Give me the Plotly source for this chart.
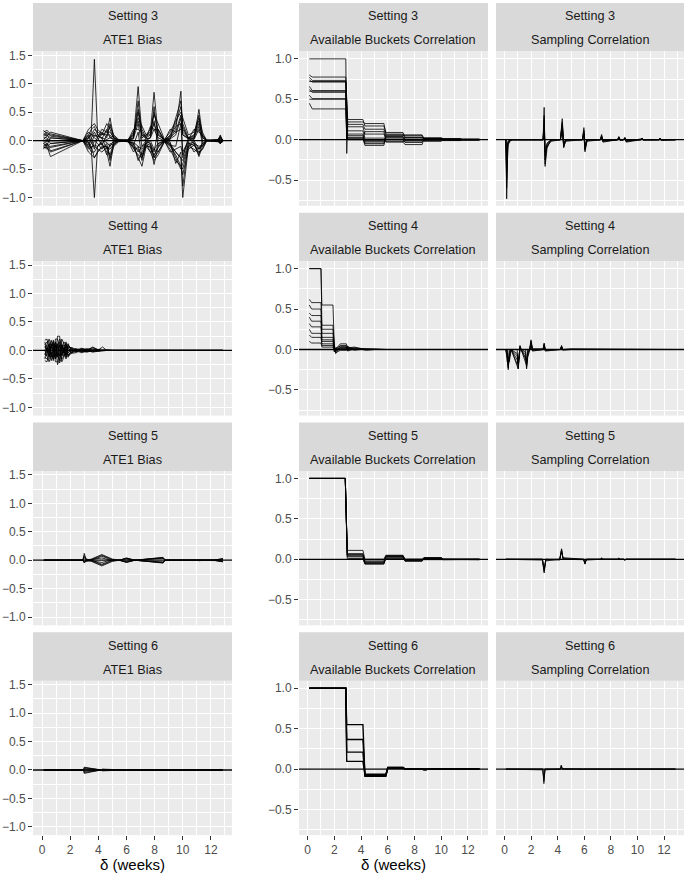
import plotly.graph_objects as go

W, H = 685, 874

# ---------------- tick labels / categories ----------------
settings = ["Setting 3", "Setting 4", "Setting 5", "Setting 6"]
metrics = ["ATE1 Bias", "Available Buckets Correlation", "Sampling Correlation"]
x_tick_vals = [0, 2, 4, 6, 8, 10, 12]
bias_tick_vals = [-1.0, -0.5, 0.0, 0.5, 1.0, 1.5]
corr_tick_vals = [-0.5, 0.0, 0.5, 1.0]
x_label = "δ (weeks)"

# ---------------- Setting 3 : ATE1 Bias ----------------
s3_bias_x = [0.1, 0.35, 0.6, 2.9, 3.3, 3.5, 3.72, 3.95, 4.25, 4.6, 4.83, 5.1, 5.45, 6.1, 6.5, 6.83, 7.1, 7.4,
             7.7, 7.96, 8.25, 8.7, 9.1, 9.5, 9.87, 10.0, 10.4, 10.8, 11.15, 11.4, 11.7, 12.5, 12.67, 12.8, 12.86]
s3_bias_y = [
    [0.15, 0.18, 0.12, 0.0, 0.05, 0.15, 1.43, 0.1, 0.05, 0.02, 0.05, 0.02, 0.0, 0.0, 0.05, 0.95, 0.1, 0.03, 0.05, 0.2, 0.05, 0.0, 0.03, 0.1, 0.4, 0.1, 0.05, 0.02, 0.2, 0.05, 0.0, 0.0, 0.05, 0.0, 0.0],
    [-0.1, -0.15, -0.1, 0.0, -0.05, -0.15, -1.0, -0.1, 0.0, -0.03, -0.1, 0.0, 0.0, 0.0, -0.05, -0.2, -0.1, -0.05, 0.0, -0.15, -0.05, 0.0, -0.05, -0.2, -0.3, -1.0, -0.1, 0.0, -0.15, -0.05, 0.0, 0.0, -0.03, 0.0, 0.0],
    [0.18, 0.12, 0.1, 0.0, 0.1, 0.2, 0.25, 0.1, 0.1, 0.15, 0.4, 0.05, 0.0, 0.02, 0.1, 0.5, 0.05, 0.1, 0.15, 0.85, 0.1, 0.02, 0.05, 0.2, 0.87, 0.15, 0.05, 0.05, 0.55, 0.1, 0.02, 0.0, 0.1, 0.02, 0.0],
    [-0.05, -0.1, -0.28, 0.0, -0.1, -0.2, -0.2, -0.1, -0.05, -0.2, -0.45, -0.05, 0.0, -0.02, -0.1, -0.3, -0.45, -0.1, -0.1, -0.42, -0.1, 0.0, -0.05, -0.3, -0.5, -0.4, -0.1, -0.05, -0.28, -0.1, 0.0, 0.0, -0.05, 0.0, 0.0],
    [0.1, 0.15, 0.08, 0.0, 0.15, 0.1, 0.2, 0.15, 0.1, 0.3, 0.2, 0.03, 0.02, 0.0, 0.08, 0.55, 0.2, 0.05, 0.1, 0.5, 0.15, 0.0, 0.1, 0.3, 0.6, 0.3, 0.05, 0.1, 0.35, 0.05, 0.0, 0.02, 0.08, 0.0, 0.0],
    [-0.15, -0.05, -0.18, 0.0, -0.15, -0.1, -0.3, -0.2, -0.1, -0.1, -0.25, -0.03, 0.0, -0.02, -0.05, -0.35, -0.2, -0.05, -0.08, -0.3, -0.2, -0.02, -0.1, -0.25, -0.45, -0.6, -0.15, -0.08, -0.2, -0.15, 0.0, 0.0, -0.02, -0.03, 0.0],
    [0.05, 0.05, -0.05, 0.0, 0.08, -0.05, 0.1, 0.05, -0.08, 0.1, 0.1, 0.0, 0.0, 0.0, 0.05, 0.3, -0.1, 0.0, 0.05, 0.35, -0.1, 0.0, 0.05, 0.15, 0.45, -0.2, 0.0, 0.05, 0.25, -0.05, 0.0, 0.0, 0.04, 0.0, 0.0],
    [-0.05, -0.08, 0.05, 0.0, -0.08, 0.05, -0.15, 0.08, 0.05, -0.15, -0.1, 0.0, 0.0, 0.0, -0.08, 0.15, -0.3, 0.0, -0.05, -0.2, 0.2, 0.0, -0.08, -0.1, 0.3, -0.3, 0.05, -0.05, -0.1, -0.08, 0.0, 0.0, -0.04, 0.0, 0.0],
    [0.12, 0.1, 0.0, 0.0, 0.05, 0.1, 0.05, 0.0, 0.15, 0.05, 0.3, 0.05, 0.0, 0.01, 0.03, 0.7, 0.0, 0.02, 0.05, 0.6, 0.0, 0.01, 0.02, 0.4, 0.7, 0.1, 0.03, 0.03, 0.45, 0.0, 0.0, 0.0, 0.06, 0.01, 0.0],
    [-0.12, -0.12, -0.2, 0.0, -0.02, -0.15, 0.0, -0.05, -0.15, -0.05, -0.35, -0.02, 0.0, -0.01, -0.03, -0.1, -0.35, -0.02, -0.05, -0.3, -0.05, -0.01, -0.02, -0.4, -0.2, -0.8, -0.05, -0.03, -0.25, 0.0, 0.0, 0.0, -0.05, -0.01, 0.0],
    [0.08, 0.1, 0.05, 0.0, 0.2, 0.25, 0.3, 0.2, 0.12, 0.1, 0.25, 0.1, 0.02, 0.0, 0.15, 0.4, 0.25, 0.1, 0.2, 0.45, 0.3, 0.02, 0.15, 0.35, 0.5, 0.4, 0.1, 0.15, 0.4, 0.15, 0.0, 0.02, 0.06, 0.02, 0.0],
    [-0.08, -0.1, -0.05, 0.0, -0.2, -0.25, -0.3, -0.2, -0.12, -0.1, -0.3, -0.1, -0.02, 0.0, -0.15, -0.25, -0.3, -0.1, -0.2, -0.35, -0.25, -0.02, -0.15, -0.35, -0.45, -0.5, -0.1, -0.15, -0.22, -0.15, 0.0, -0.02, -0.05, -0.02, 0.0],
    [0.02, 0.08, 0.15, 0.0, 0.1, 0.05, 0.15, 0.05, 0.2, 0.15, 0.15, 0.05, 0.01, 0.01, 0.12, 0.35, 0.1, 0.08, 0.12, 0.3, 0.1, 0.01, 0.08, 0.25, 0.3, 0.2, 0.05, 0.08, 0.3, 0.08, 0.0, 0.01, 0.03, 0.0, 0.0],
    [-0.02, -0.05, -0.12, 0.0, -0.12, -0.05, -0.1, -0.15, -0.2, -0.12, -0.15, -0.06, -0.01, -0.01, -0.12, -0.15, -0.25, -0.08, -0.12, -0.25, -0.12, -0.01, -0.08, -0.2, -0.3, -0.35, -0.05, -0.08, -0.15, -0.08, 0.0, -0.01, -0.03, 0.0, 0.0],
    [0.0, 0.02, 0.0, 0.0, 0.03, 0.12, 0.08, 0.1, 0.03, 0.2, 0.05, 0.08, 0.0, 0.0, 0.2, 0.2, 0.15, 0.04, 0.25, 0.2, 0.2, 0.0, 0.2, 0.15, 0.2, 0.25, 0.02, 0.2, 0.15, 0.1, 0.0, 0.0, 0.02, 0.0, 0.0],
    [0.0, -0.02, 0.0, 0.0, -0.03, -0.12, -0.08, -0.1, -0.03, -0.25, -0.05, -0.08, 0.0, 0.0, -0.2, -0.1, -0.15, -0.04, -0.2, -0.15, -0.2, 0.0, -0.2, -0.15, -0.1, -0.25, -0.02, -0.2, -0.12, -0.1, 0.0, 0.0, -0.02, 0.0, 0.0],
]

# ---------------- Setting 4 : ATE1 Bias ----------------
s4_bias_x = [0.2, 0.35, 0.5, 0.65, 0.8, 0.95, 1.1, 1.25, 1.4, 1.55, 1.7, 1.85, 2.1, 2.4, 2.8, 3.2, 3.6, 4.0,
             4.3, 4.6, 5.0, 6.0, 12.86]
s4_bias_y = [
    [0.1, 0.15, 0.15, -0.1, -0.1, 0.2, 0.2, 0.05, 0.05, 0.15, 0.1, 0.05, 0.05, 0.02, 0.03, 0.01, 0.05, 0.01, 0.06, 0.0, 0.0, 0.0, 0.0],
    [-0.12, -0.15, -0.15, 0.1, 0.1, -0.2, -0.2, -0.05, -0.15, -0.1, -0.05, -0.08, -0.03, -0.02, -0.03, -0.01, -0.02, 0.0, -0.01, 0.0, 0.0, 0.0, 0.0],
    [0.05, 0.1, -0.05, 0.18, 0.05, -0.1, 0.25, 0.25, -0.08, 0.05, -0.12, 0.1, 0.0, 0.03, -0.02, 0.02, 0.03, 0.0, 0.01, 0.0, 0.0, 0.0, 0.0],
    [-0.05, -0.1, 0.05, -0.18, -0.05, 0.1, -0.25, -0.15, 0.08, -0.05, 0.12, -0.1, -0.05, -0.04, 0.02, -0.02, -0.01, 0.0, 0.0, 0.0, 0.0, 0.0, 0.0],
    [0.18, 0.2, 0.05, 0.05, 0.15, 0.0, 0.1, -0.1, 0.2, 0.12, 0.0, 0.08, 0.03, -0.03, 0.04, 0.0, 0.06, 0.01, 0.0, 0.01, 0.0, 0.0, 0.0],
    [-0.18, -0.2, -0.05, -0.05, -0.15, 0.0, -0.1, 0.1, -0.2, -0.12, 0.0, -0.08, -0.03, 0.03, -0.04, 0.0, -0.03, -0.01, 0.0, 0.0, 0.0, 0.0, 0.0],
    [0.08, 0.0, 0.12, -0.12, 0.12, 0.08, -0.05, 0.15, 0.0, -0.1, 0.08, -0.05, 0.05, 0.0, 0.02, 0.03, 0.0, 0.02, 0.0, 0.0, 0.0, 0.0, 0.0],
    [-0.08, 0.05, -0.12, 0.12, -0.12, -0.08, 0.05, -0.18, 0.0, 0.1, -0.08, 0.05, -0.05, 0.01, -0.02, -0.03, 0.0, -0.02, 0.0, 0.0, 0.0, 0.0, 0.0],
    [0.15, -0.05, 0.1, 0.02, 0.18, -0.15, 0.12, 0.0, 0.1, -0.05, 0.15, 0.0, 0.04, -0.02, 0.01, 0.02, 0.0, 0.0, 0.0, 0.0, 0.0, 0.0, 0.0],
    [-0.15, 0.05, -0.1, -0.02, -0.18, 0.15, -0.12, 0.0, -0.1, 0.05, -0.15, 0.0, -0.04, 0.02, -0.01, -0.02, 0.0, 0.0, 0.0, 0.0, 0.0, 0.0, 0.0],
    [0.0, 0.12, 0.2, 0.1, 0.0, 0.15, 0.05, 0.2, 0.1, 0.0, 0.05, 0.12, -0.02, 0.02, 0.0, -0.01, 0.02, 0.0, 0.0, 0.0, 0.0, 0.0, 0.0],
    [0.0, -0.12, -0.2, -0.1, 0.0, -0.15, -0.05, -0.22, -0.1, 0.0, -0.05, -0.12, 0.02, -0.02, 0.0, 0.01, -0.02, 0.0, 0.0, 0.0, 0.0, 0.0, 0.0],
]

# ---------------- Setting 5 : ATE1 Bias ----------------
s5_bias_x = [0.13, 2.9, 3.0, 3.15, 3.5, 4.25, 5.0, 5.3, 5.5, 6.0, 6.45, 6.6, 8.6, 8.75, 11.0, 11.2, 11.4, 12.2, 12.86]
s5_bias_y = [
    [0, 0, 0.12, 0.0, 0.02, 0.1, 0.02, 0, 0, 0.04, 0, 0, 0.05, 0, 0, 0.01, 0, 0, 0.03],
    [0, 0, -0.05, 0.0, -0.02, -0.1, -0.02, 0, 0, -0.04, 0, 0, -0.05, 0, 0, -0.01, 0, 0, -0.03],
    [0, 0, 0.06, 0.02, 0.0, 0.07, 0.0, 0, 0, 0.03, 0, 0, 0.03, 0, 0, 0.0, 0, 0, 0.02],
    [0, 0, -0.03, -0.02, 0.0, -0.07, 0.0, 0, 0, -0.03, 0, 0, -0.03, 0, 0, 0.0, 0, 0, -0.02],
    [0, 0, 0.03, -0.01, 0.01, 0.04, -0.01, 0, 0, 0.02, 0, 0, 0.04, 0, 0, 0, 0, 0, 0.01],
    [0, 0, -0.02, 0.01, -0.01, -0.04, 0.01, 0, 0, -0.02, 0, 0, -0.04, 0, 0, 0, 0, 0, -0.01],
    [0, 0, 0.08, 0.01, 0.01, 0.085, 0.01, 0, 0, 0.035, 0, 0, 0.045, 0, 0, 0.005, 0, 0, 0.025],
    [0, 0, -0.04, -0.01, -0.01, -0.085, -0.01, 0, 0, -0.035, 0, 0, -0.045, 0, 0, -0.005, 0, 0, -0.025],
]

# ---------------- Setting 6 : ATE1 Bias ----------------
s6_bias_x = [0.13, 2.95, 3.0, 4.15, 4.3, 5.9, 12.5, 12.7, 12.86]
s6_bias_y = [
    [0, 0, 0.05, 0.0, 0.015, 0.0, 0, 0.01, 0],
    [0, 0, -0.06, 0.0, -0.015, 0.0, 0, -0.01, 0],
    [0, 0, 0.04, 0.0, 0.01, 0, 0, 0, 0],
    [0, 0, -0.045, 0.0, -0.01, 0, 0, 0, 0],
    [0, 0, 0.025, 0.0, 0.005, 0, 0, 0.005, 0],
    [0, 0, -0.025, 0.0, -0.005, 0, 0, 0, 0],
    [0, 0, 0.012, 0.0, 0.0, 0, 0, 0, 0],
    [0, 0, -0.012, 0.0, 0.0, 0, 0, 0, 0],
]

# ---------------- Setting 3 : Available Buckets Correlation ----------------
s3_buck_x = [0.13, 0.35, 2.86, 2.93, 3.0, 4.14, 4.29, 5.71, 5.86, 7.14, 7.29, 8.57, 8.71, 10.0, 10.14, 11.43, 11.57, 12.86]
s3_buck_y = [
    [1.0, 1.0, 1.0, -0.17, 0.22, 0.22, 0.2, 0.2, 0.07, 0.07, 0.05, 0.05, 0.02, 0.02, 0.01, 0.01, 0.0, 0.0],
    [0.80, 0.775, 0.775, 0.5, 0.25, 0.25, 0.17, 0.17, 0.09, 0.09, 0.03, 0.03, 0.02, 0.02, 0.015, 0.015, 0.01, 0.01],
    [0.77, 0.734, 0.734, 0.4, 0.19, 0.19, 0.13, 0.13, 0.05, 0.05, 0.06, 0.06, 0.0, 0.0, 0.0, 0.0, 0.0, 0.0],
    [0.74, 0.713, 0.713, 0.3, 0.16, 0.16, 0.07, 0.07, 0.03, 0.03, 0.0, 0.0, 0.01, 0.01, -0.01, -0.01, 0.0, 0.0],
    [0.66, 0.607, 0.607, 0.2, 0.11, 0.11, 0.02, 0.02, 0.0, 0.0, -0.03, -0.03, -0.01, -0.01, 0.0, 0.0, 0.005, 0.005],
    [0.62, 0.586, 0.586, 0.1, 0.07, 0.07, -0.01, -0.01, -0.02, -0.02, -0.06, -0.06, 0.02, 0.02, 0.01, 0.01, 0.0, 0.0],
    [0.55, 0.508, 0.508, 0.0, 0.03, 0.03, -0.04, -0.04, 0.06, 0.06, 0.02, 0.02, -0.02, -0.02, 0.0, 0.0, 0.0, 0.0],
    [0.45, 0.381, 0.381, 0.0, 0.02, 0.02, -0.07, -0.07, 0.04, 0.04, -0.01, -0.01, 0.0, 0.0, -0.01, -0.01, 0.0, 0.0],
    [0.6, 0.6, 0.6, 0.1, 0.0, 0.0, 0.1, 0.1, -0.03, -0.03, 0.03, 0.03, 0.01, 0.01, 0.005, 0.005, 0.0, 0.0],
    [0.5, 0.5, 0.5, 0.05, 0.01, 0.01, -0.05, -0.05, 0.02, 0.02, -0.03, -0.03, 0.0, 0.0, 0.0, 0.0, 0.0, 0.0],
    [0.72, 0.72, 0.72, 0.2, 0.05, 0.05, -0.02, -0.02, 0.0, 0.0, 0.0, 0.0, 0.015, 0.015, 0.0, 0.0, 0.0, 0.0],
]

# ---------------- Setting 4 : Available Buckets Correlation ----------------
s4_buck_x = [0.13, 0.3, 0.6, 1.0, 1.07, 1.4, 1.9, 2.0, 2.1, 2.45, 2.9, 3.0, 3.5, 4.4, 5.0, 5.9, 12.86]
s4_buck_y = [
    [1.0, 1.0, 1.0, 1.0, 0.55, 0.55, 0.55, 0.05, 0.0, 0.07, 0.07, 0.02, 0.03, 0.0, 0.01, 0.0, 0.0],
    [1.0, 1.0, 1.0, 1.0, 0.3, 0.3, 0.3, 0.02, -0.05, 0.03, 0.03, 0.0, 0.0, 0.01, 0.0, 0.0, 0.0],
    [0.62, 0.58, 0.58, 0.58, 0.25, 0.25, 0.25, 0.03, -0.03, 0.05, 0.05, -0.02, 0.02, -0.01, 0.0, 0.0, 0.0],
    [0.55, 0.5, 0.5, 0.5, 0.2, 0.2, 0.2, 0.0, 0.0, 0.02, 0.02, 0.03, 0.01, 0.0, 0.0, 0.0, 0.0],
    [0.45, 0.42, 0.42, 0.42, 0.15, 0.15, 0.15, -0.02, 0.01, 0.0, 0.0, 0.04, -0.01, 0.01, 0.0, 0.0, 0.0],
    [0.4, 0.35, 0.35, 0.35, 0.12, 0.12, 0.12, 0.04, -0.04, -0.01, -0.01, 0.0, 0.0, 0.0, 0.0, 0.0, 0.0],
    [0.32, 0.28, 0.28, 0.28, 0.1, 0.1, 0.1, 0.0, 0.02, 0.04, 0.04, 0.01, 0.02, 0.0, 0.0, 0.0, 0.0],
    [0.25, 0.2, 0.2, 0.2, 0.07, 0.07, 0.07, 0.01, -0.02, 0.01, 0.01, -0.01, 0.0, 0.0, 0.0, 0.0, 0.0],
    [0.18, 0.15, 0.15, 0.15, 0.05, 0.05, 0.05, -0.03, 0.0, 0.0, 0.0, 0.02, 0.0, 0.0, 0.0, 0.0, 0.0],
    [0.1, 0.08, 0.08, 0.08, 0.03, 0.03, 0.03, 0.0, -0.01, 0.02, 0.02, 0.0, 0.0, 0.0, 0.0, 0.0, 0.0],
]

# ---------------- Setting 5 : Available Buckets Correlation ----------------
s5_buck_x = [0.13, 2.82, 2.97, 4.14, 4.29, 5.71, 5.86, 7.14, 7.29, 8.57, 8.71, 10.0, 10.14, 11.43, 11.57, 12.86]
s5_buck_y = [
    [1.0, 1.0, 0.11, 0.11, 0.0, 0.0, 0.05, 0.05, 0.0, 0.0, 0.02, 0.02, 0.0, 0.0, 0.0, 0.0],
    [1.0, 1.0, 0.07, 0.07, -0.02, -0.02, 0.04, 0.04, -0.01, -0.01, 0.015, 0.015, 0.0, 0.0, -0.005, -0.005],
    [1.0, 1.0, 0.05, 0.05, -0.04, -0.04, 0.03, 0.03, -0.02, -0.02, 0.01, 0.01, 0.0, 0.0, 0.0, 0.0],
    [1.0, 1.0, 0.03, 0.03, -0.05, -0.05, 0.02, 0.02, -0.015, -0.015, 0.005, 0.005, -0.005, -0.005, 0.0, 0.0],
    [1.0, 1.0, 0.01, 0.01, -0.06, -0.06, 0.01, 0.01, -0.005, -0.005, 0.0, 0.0, 0.0, 0.0, -0.005, -0.005],
    [1.0, 1.0, 0.06, 0.06, -0.03, -0.03, 0.045, 0.045, 0.0, 0.0, 0.01, 0.01, 0.0, 0.0, 0.0, 0.0],
    [1.0, 1.0, 0.04, 0.04, -0.055, -0.055, 0.035, 0.035, -0.025, -0.025, 0.02, 0.02, 0.0, 0.0, 0.0, 0.0],
]

# ---------------- Setting 6 : Available Buckets Correlation ----------------
s6_buck_x = [0.13, 2.86, 2.93, 4.14, 4.29, 5.86, 6.0, 7.14, 7.29, 8.57, 8.71, 8.86, 9.0, 12.86]
s6_buck_y = [
    [1.0, 1.0, 0.55, 0.55, -0.09, -0.09, 0.02, 0.02, 0.0, 0.0, -0.01, -0.01, 0.0, 0.0],
    [1.0, 1.0, 0.366, 0.366, -0.07, -0.07, 0.015, 0.015, 0.0, 0.0, -0.005, -0.005, 0.0, 0.0],
    [1.0, 1.0, 0.21, 0.21, -0.08, -0.08, 0.01, 0.01, 0.0, 0.0, -0.01, -0.01, 0.0, 0.0],
    [1.0, 1.0, 0.095, 0.095, -0.065, -0.065, 0.02, 0.02, 0.0, 0.0, 0.0, 0.0, 0.0, 0.0],
]

# ---------------- Setting 3 : Sampling Correlation ----------------
s3_samp_x = [0.1, 0.16, 0.25, 0.4, 0.6, 2.9, 2.98, 3.05, 3.2, 3.5, 4.2, 4.34, 4.45, 4.6, 5.85, 5.97, 6.05, 6.2,
             7.2, 7.3, 7.4, 8.5, 8.6, 8.7, 8.95, 9.05, 9.15, 10.25, 10.35, 10.45, 11.6, 11.7, 11.8, 12.86]
s3_samp_y = [
    [0, -0.73, -0.05, 0.0, 0, 0, 0.4, -0.33, -0.1, 0, 0, 0.26, -0.05, 0, 0, 0.15, -0.08, 0, 0, 0.065, -0.01, 0, 0.04, 0, 0, 0.03, 0, 0, 0.02, 0, 0, 0.02, 0, 0],
    [0, -0.6, -0.07, -0.02, 0, 0, 0.3, -0.25, -0.05, 0, 0, 0.2, -0.1, 0, 0, 0.1, -0.12, 0, 0, 0.04, -0.03, 0, 0.03, -0.01, 0, 0.02, -0.03, 0, 0.015, 0, 0, 0.01, -0.01, 0],
    [0, -0.4, -0.03, 0, 0, 0, 0.2, -0.2, -0.08, -0.02, 0, 0.15, -0.08, -0.02, 0, 0.08, -0.15, -0.02, 0, 0.03, -0.02, 0, 0.02, 0, 0, 0.02, -0.02, 0, 0.01, -0.005, 0, 0.01, 0, 0],
    [0, -0.3, -0.02, 0, 0, 0, 0.15, -0.15, -0.06, -0.01, 0, 0.1, -0.06, 0, 0, 0.05, -0.1, 0, 0, 0.02, -0.01, 0, 0.015, 0, 0, 0.015, -0.015, 0, 0.01, 0, 0, 0.005, 0, 0],
    [0, -0.2, -0.05, 0, 0, 0, 0.1, -0.3, -0.04, 0, 0, 0.22, -0.04, 0, 0, 0.12, -0.06, 0, 0, 0.05, 0, 0, 0.03, 0, 0, 0.025, -0.01, 0, 0.015, 0, 0, 0.015, 0, 0],
    [0, -0.5, -0.06, -0.01, 0, 0, 0.25, -0.1, -0.09, 0, 0, 0.18, -0.09, -0.01, 0, 0.07, -0.13, -0.01, 0, 0.035, -0.02, 0, 0.025, -0.005, 0, 0.02, -0.02, 0, 0.012, 0, 0, 0.012, 0, 0],
]

# ---------------- Setting 4 : Sampling Correlation ----------------
s4_samp_x = [0.1, 0.2, 0.28, 0.36, 0.5, 0.95, 1.03, 1.1, 1.16, 1.25, 1.58, 1.66, 1.74, 1.9, 1.99, 2.1, 2.9, 2.98,
             3.06, 4.2, 4.29, 4.37, 5.0, 12.86]
s4_samp_y = [
    [0, 0, -0.23, 0, 0, 0, -0.24, 0, 0.05, 0, 0, -0.22, 0, 0, 0.1, 0, 0, 0.08, 0, 0, 0.05, 0, 0, 0],
    [0, 0, -0.2, -0.05, 0, -0.05, -0.2, -0.03, 0.03, 0, -0.03, -0.2, -0.04, 0, 0.07, -0.02, 0, 0.05, -0.01, 0, 0.03, 0, 0, 0],
    [0, -0.05, -0.18, -0.1, 0, -0.08, -0.22, -0.06, 0.02, 0, -0.06, -0.18, -0.06, 0.02, 0.12, 0.01, 0.01, 0.06, 0, 0, 0.04, -0.01, 0, 0],
    [0, -0.1, -0.25, -0.02, 0, -0.12, -0.15, -0.08, 0.04, 0, -0.1, -0.24, -0.02, 0.01, 0.08, -0.01, 0, 0.07, -0.02, 0, 0.02, 0, 0.01, 0],
    [0, -0.15, -0.1, -0.15, 0, -0.18, -0.1, -0.12, 0.01, 0, -0.12, -0.15, -0.08, 0, 0.05, 0, 0, 0.04, 0, 0, 0.03, 0, 0, 0],
    [0, -0.08, -0.22, -0.08, 0, -0.2, -0.24, -0.1, 0.0, 0, -0.15, -0.2, -0.1, 0, 0.1, -0.01, 0, 0.03, -0.01, 0, 0.04, 0, 0, 0],
]

# ---------------- Setting 5 : Sampling Correlation ----------------
s5_samp_x = [0.1, 2.85, 2.98, 3.1, 4.15, 4.29, 4.4, 5.95, 6.05, 6.15, 7.2, 7.3, 7.4, 8.5, 8.6, 8.7, 8.95, 9.05,
             9.15, 11.6, 11.7, 11.8, 12.86]
s5_samp_y = [
    [0, 0, -0.17, 0, 0, 0.13, 0, 0, -0.06, 0, 0, 0.015, 0, 0, 0.015, 0, 0, -0.01, 0, 0, 0.008, 0, 0],
    [0, 0, -0.14, -0.01, 0, 0.11, 0.01, 0, -0.05, 0, 0, 0.01, 0, 0, 0.01, 0, 0, -0.008, 0, 0, 0.005, 0, 0],
    [0, -0.01, -0.15, 0, -0.01, 0.12, 0, -0.005, -0.055, 0, 0, 0.012, 0, 0, 0.012, 0, 0, -0.009, 0, 0, 0.006, 0, 0],
    [0, 0, -0.12, -0.02, 0, 0.09, 0.02, 0, -0.04, -0.01, 0, 0.008, 0, 0, 0.008, 0, 0, -0.006, 0, 0, 0.004, 0, 0],
]

# ---------------- Setting 6 : Sampling Correlation ----------------
s6_samp_x = [0.1, 2.88, 2.96, 3.04, 4.2, 4.27, 4.34, 5.85, 5.9, 5.95, 12.86]
s6_samp_y = [
    [0, 0, -0.18, 0, 0, 0.05, 0, 0, -0.01, 0, 0],
    [0, 0, -0.15, -0.01, 0, 0.04, 0.005, 0, -0.005, 0, 0],
    [0, -0.01, -0.12, 0, 0, 0.03, 0, 0, 0, 0, 0],
]

panel_data = [
    [(s3_bias_x, s3_bias_y), (s3_buck_x, s3_buck_y), (s3_samp_x, s3_samp_y)],
    [(s4_bias_x, s4_bias_y), (s4_buck_x, s4_buck_y), (s4_samp_x, s4_samp_y)],
    [(s5_bias_x, s5_bias_y), (s5_buck_x, s5_buck_y), (s5_samp_x, s5_samp_y)],
    [(s6_bias_x, s6_bias_y), (s6_buck_x, s6_buck_y), (s6_samp_x, s6_samp_y)],
]

# ---------------- layout geometry (pixels) ----------------
COLS_PX = [(33, 232), (299, 488), (496, 684)]
ROW_STEP = 210.5
STRIP_H = 48.5
PLOT_H = 155
X_RANGE = [-0.643, 13.5]
BIAS_RANGE = [-1.145, 1.57]
CORR_RANGE = [-0.817, 1.093]

FONT = "Liberation Sans, Arial, Helvetica, sans-serif"
PANEL_BG = "#EBEBEB"
STRIP_BG = "#D9D9D9"

fig = go.Figure()
layout = dict(
    width=W, height=H, autosize=False,
    margin=dict(l=0, r=0, t=0, b=0),
    paper_bgcolor="white", plot_bgcolor=PANEL_BG,
    showlegend=False,
    font=dict(family=FONT, size=12, color="#4D4D4D"),
)
shapes = []
annotations = []

for r in range(4):
    strip_top = ROW_STEP * r
    plot_top = strip_top + STRIP_H
    plot_bot = plot_top + PLOT_H
    for c in range(3):
        n = r * 3 + c + 1
        xs = "x" if n == 1 else f"x{n}"
        ys = "y" if n == 1 else f"y{n}"
        x0, x1 = COLS_PX[c]
        bottom = (r == 3)
        show_y = (c != 2)
        yticks = bias_tick_vals if c == 0 else corr_tick_vals
        yrange = BIAS_RANGE if c == 0 else CORR_RANGE

        layout["xaxis" if n == 1 else f"xaxis{n}"] = dict(
            domain=[x0 / W, x1 / W], anchor=ys, range=X_RANGE,
            tickvals=x_tick_vals, showticklabels=bottom,
            ticks="outside" if bottom else "", ticklen=3.5, tickwidth=1, tickcolor="#333333",
            tickfont=dict(size=12, color="#4D4D4D", family=FONT),
            showgrid=True, gridcolor="white", gridwidth=1.1,
            minor=dict(dtick=1, tick0=0, showgrid=True, gridcolor="white", gridwidth=0.55),
            zeroline=False, showline=False, fixedrange=True,
        )
        layout["yaxis" if n == 1 else f"yaxis{n}"] = dict(
            domain=[1 - plot_bot / H, 1 - plot_top / H], anchor=xs, range=yrange,
            tickvals=yticks, tickformat=".1f", showticklabels=show_y,
            ticks="outside" if show_y else "", ticklen=4, tickwidth=1, tickcolor="#333333",
            tickfont=dict(size=12, color="#4D4D4D", family=FONT),
            showgrid=True, gridcolor="white", gridwidth=1.1,
            minor=dict(dtick=0.25, tick0=0, showgrid=True, gridcolor="white", gridwidth=0.55),
            zeroline=False, showline=False, fixedrange=True,
        )

        # reference line at zero across the panel
        shapes.append(dict(type="line", xref=f"{xs} domain", yref=ys, x0=0, x1=1, y0=0, y1=0,
                           line=dict(color="black", width=1.3), layer="above"))

        xv, curves = panel_data[r][c]
        lw = 1.4 if (r == 3 and c == 1) else 0.8
        for yv in curves:
            fig.add_trace(go.Scatter(x=xv, y=yv, mode="lines", xaxis=xs, yaxis=ys,
                                     line=dict(color="black", width=lw),
                                     hoverinfo="skip", showlegend=False))

        # strip
        shapes.append(dict(type="rect", xref="paper", yref="paper",
                           x0=x0 / W, x1=x1 / W,
                           y0=1 - (strip_top + STRIP_H) / H, y1=1 - strip_top / H,
                           fillcolor=STRIP_BG, line=dict(width=0), layer="above"))
        cx = (x0 + x1) / 2 / W
        annotations.append(dict(text=settings[r], x=cx, y=1 - (strip_top + 13.5) / H,
                                xref="paper", yref="paper", showarrow=False,
                                xanchor="center", yanchor="middle",
                                font=dict(size=12.7, color="#1A1A1A", family=FONT)))
        annotations.append(dict(text=metrics[c], x=cx, y=1 - (strip_top + 37.5) / H,
                                xref="paper", yref="paper", showarrow=False,
                                xanchor="center", yanchor="middle",
                                font=dict(size=12.7, color="#1A1A1A", family=FONT)))

# x axis titles
for xc in [(COLS_PX[0][0] + COLS_PX[0][1]) / 2, (COLS_PX[1][0] + COLS_PX[1][1]) / 2]:
    annotations.append(dict(text=x_label, x=xc / W, y=1 - 864.5 / H, xref="paper", yref="paper",
                            showarrow=False, xanchor="center", yanchor="middle", borderpad=0,
                            font=dict(size=15, color="black", family=FONT)))

layout["shapes"] = shapes
layout["annotations"] = annotations
fig.update_layout(**layout)
fig.write_html("out.html",
               config={"displayModeBar": False},
               post_script="document.body.style.margin='0px';document.body.style.padding='0px';")
